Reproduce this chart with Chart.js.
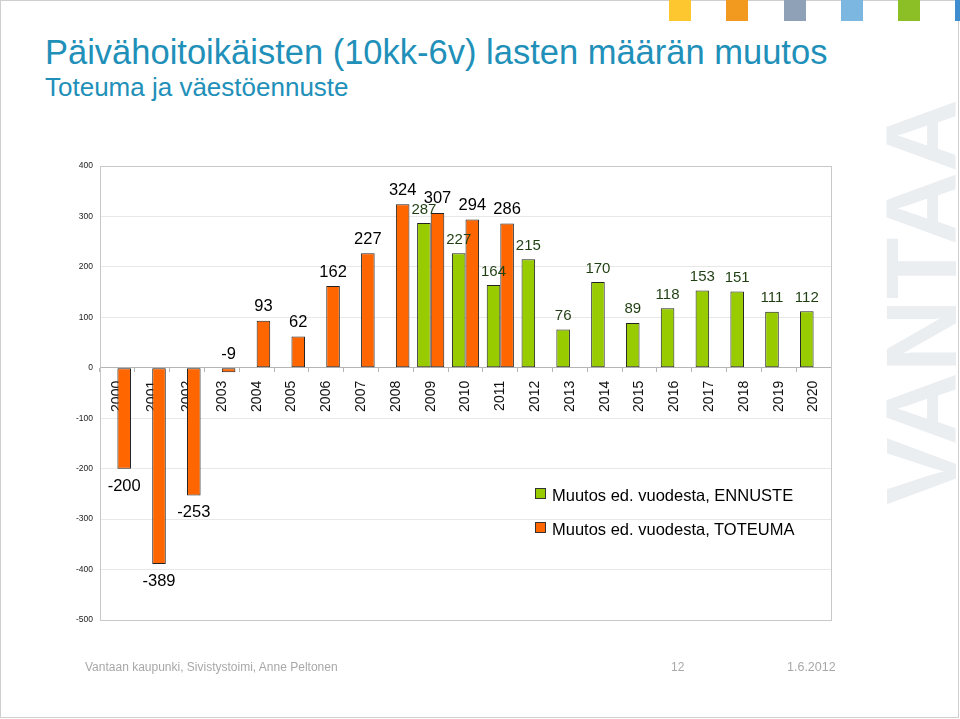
<!DOCTYPE html>
<html><head><meta charset="utf-8">
<script src="https://cdn.jsdelivr.net/npm/chart.js@4/dist/chart.umd.min.js"></script>
<style>
html,body{margin:0;padding:0;background:#fff;}
#slide{position:relative;width:960px;height:719px;overflow:hidden;font-family:"Liberation Sans",Arial,sans-serif;background:#fff;}
.frame{position:absolute;left:0;top:0;width:957px;height:716px;border:1px solid #cfcfcf;}
.sq{position:absolute;top:0;width:22px;height:21px;}
#wm{position:absolute;left:871px;top:505px;font-size:101px;line-height:1;font-weight:bold;color:#ebeef1;white-space:nowrap;transform:rotate(-90deg);transform-origin:left top;}
#title{position:absolute;left:45px;top:35px;font-size:34.5px;line-height:1;color:#2190b9;white-space:nowrap;}
#sub{position:absolute;left:45px;top:74px;font-size:26px;line-height:1;color:#2190b9;white-space:nowrap;}
#c{position:absolute;left:0;top:0;}
.lg{position:absolute;left:535px;font-size:16.5px;line-height:1;color:#000;white-space:nowrap;}
.lg i{position:absolute;left:0;width:9px;height:9px;border:1px solid #333;}
.lg span{position:absolute;left:17px;top:0;}
.ft{position:absolute;top:661px;font-size:12px;line-height:1;color:#a8a8a8;white-space:nowrap;}
</style></head><body>
<div id="slide">
  <div class="frame"></div>
  <div class="sq" style="left:669px;background:#fdc72f"></div>
  <div class="sq" style="left:726px;background:#f29a1f"></div>
  <div class="sq" style="left:784px;background:#8fa1b6"></div>
  <div class="sq" style="left:841px;background:#7cb7e1"></div>
  <div class="sq" style="left:898px;background:#8cbf26"></div>
  <div class="sq" style="left:955px;background:#3d8dcf"></div>
  <div id="wm">VANTAA</div>
  <div id="title">Päivähoitoikäisten (10kk-6v) lasten määrän muutos</div>
  <div id="sub">Toteuma ja väestöennuste</div>
  <canvas id="c" width="960" height="719"></canvas>
  <div class="lg" style="top:487px"><i style="top:1px;background:#99cc00"></i><span>Muutos ed. vuodesta, ENNUSTE</span></div>
  <div class="lg" style="top:521px"><i style="top:1px;background:#ff6600"></i><span>Muutos ed. vuodesta, TOTEUMA</span></div>
  <div class="ft" style="left:85px">Vantaan kaupunki, Sivistystoimi, Anne Peltonen</div>
  <div class="ft" style="left:671px">12</div>
  <div class="ft" style="left:787px;font-size:12.5px">1.6.2012</div>
</div>
<script>
const years = ['2000','2001','2002','2003','2004','2005','2006','2007','2008','2009','2010',
               '2011','2012','2013','2014','2015','2016','2017','2018','2019','2020'];
const ennuste = [null,null,null,null,null,null,null,null,null,287,227,164,215,76,170,89,118,153,151,111,112];
const toteuma = [-200,-389,-253,-9,93,62,162,227,324,307,294,286,null,null,null,null,null,null,null,null,null];
const yTicks = [-500,-400,-300,-200,-100,0,100,200,300,400];

const FONT = '"Liberation Sans", Arial, sans-serif';

const framePlugin = {
  id:'frame',
  beforeDatasetsDraw(chart){
    const a = chart.chartArea, ctx = chart.ctx;
    ctx.save();
    ctx.strokeStyle = '#c8c8c8'; ctx.lineWidth = 1;
    ctx.strokeRect(Math.round(a.left)+0.5, Math.round(a.top)+0.5, Math.round(a.right-a.left), Math.round(a.bottom-a.top));
    ctx.restore();
  }
};

const valuePlugin = {
  id:'values',
  afterDatasetsDraw(chart){
    const ctx = chart.ctx;
    ctx.save();
    ctx.textAlign = 'center';
    ctx.textBaseline = 'alphabetic';
    chart.data.datasets.forEach((ds,i)=>{
      const meta = chart.getDatasetMeta(i);
      ctx.font = ds.valueFontSize + 'px ' + FONT;
      ctx.fillStyle = ds.valueColor;
      meta.data.forEach((el,j)=>{
        const v = ds.data[j];
        if (v == null) return;
        let y;
        if (v >= 0 || Math.abs(el.y - el.base) < 20) y = Math.min(el.y, el.base) - 9.5;
        else y = el.y + 22;
        ctx.fillText(String(v), el.x, y);
      });
    });
    ctx.restore();
  }
};

new Chart(document.getElementById('c'), {
  type:'bar',
  data:{
    labels: years,
    datasets:[
      {label:'Muutos ed. vuodesta, ENNUSTE', data: ennuste, backgroundColor:'#99cc00', borderColor:'#222', borderWidth:1,
       borderSkipped:false, categoryPercentage:0.78, barPercentage:1, valueColor:'#1f3f12', valueFontSize:15},
      {label:'Muutos ed. vuodesta, TOTEUMA', data: toteuma, backgroundColor:'#ff6600', borderColor:'#222', borderWidth:1,
       borderSkipped:false, categoryPercentage:0.78, barPercentage:1, valueColor:'#000', valueFontSize:16.5}
    ]
  },
  options:{
    responsive:false,
    animation:false,
    layout:{padding:{left:60, top:166, right:129, bottom:99}},
    plugins:{legend:{display:false}, tooltip:{enabled:false}},
    scales:{
      x:{
        position:{y:0},
        offset:true,
        grid:{offset:true, drawOnChartArea:false, drawTicks:true, tickLength:4, color:'#b5b5b5'},
        border:{color:'#b5b5b5'},
        ticks:{minRotation:90, maxRotation:90, autoSkip:false, padding:9, color:'#111', font:{size:14, family:FONT}},
        afterFit(s){ s.height = 0; }
      },
      y:{
        min:-500, max:400,
        afterBuildTicks(s){ s.ticks = yTicks.map(v=>({value:v})); },
        grid:{color:'#e8e8e8', drawTicks:false},
        border:{color:'#b5b5b5'},
        ticks:{padding:7, color:'#222', font:{size:8.5, family:FONT}},
        afterFit(s){ s.width = 40; }
      }
    }
  },
  plugins:[framePlugin, valuePlugin]
});
</script>
</body></html>
